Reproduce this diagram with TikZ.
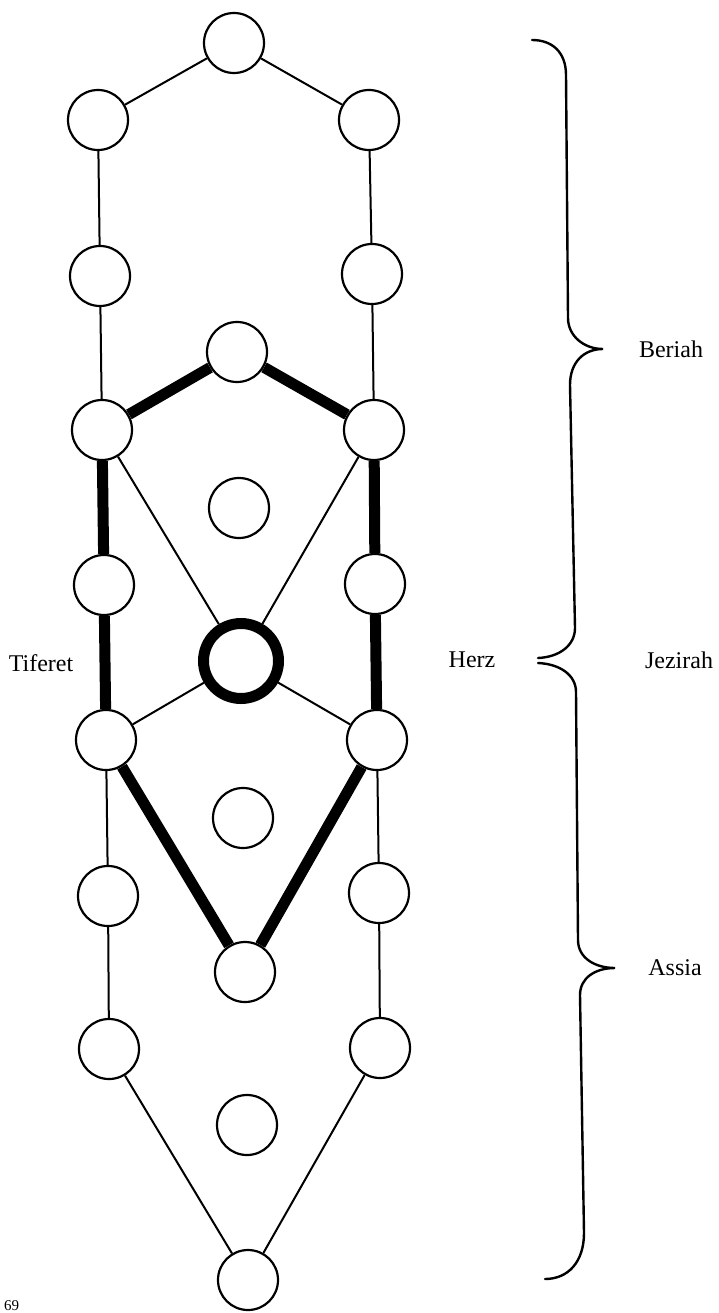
\documentclass[tikz,border=0pt]{standalone}
\usepackage{fontspec}
\setmainfont{Liberation Serif}
\begin{document}
\begin{tikzpicture}[x=1pt,y=-1pt,
  sph/.style={circle,draw,line width=2.2pt,minimum size=60pt,inner sep=0pt,fill=white},
  heavysph/.style={circle,draw,line width=11pt,minimum size=75pt,inner sep=0pt,fill=white},
  thinline/.style={line width=2pt},
  heavyline/.style={line width=11pt},
  bracepath/.style={line width=2.4pt,line cap=round},
  lbl/.style={font=\fontsize{24}{28}\selectfont,inner sep=0pt}]
\useasboundingbox (0,0) rectangle (719,1313);
% nodes
\node[sph] (T)  at (234,43) {};
\node[sph] (L1) at (98,120) {};
\node[sph] (R1) at (369,120) {};
\node[sph] (L2) at (100,276) {};
\node[sph] (R2) at (372,274) {};
\node[sph] (M1) at (237,352) {};
\node[sph] (L3) at (102,430) {};
\node[sph] (R3) at (374,430) {};
\node[sph] (C1) at (239,508) {};
\node[sph] (L4) at (104,585) {};
\node[sph] (R4) at (375,584) {};
\node[heavysph] (H) at (241,661) {};
\node[sph] (L5) at (106,740) {};
\node[sph] (R5) at (377,740) {};
\node[sph] (C2) at (243,818) {};
\node[sph] (L6) at (108,896) {};
\node[sph] (R6) at (379,893) {};
\node[sph] (M2) at (245,972) {};
\node[sph] (L7) at (109,1049) {};
\node[sph] (R7) at (380,1048) {};
\node[sph] (C3) at (247,1125) {};
\node[sph] (B)  at (248,1280) {};
% thin connectors
\draw[thinline] (T) -- (L1);
\draw[thinline] (T) -- (R1);
\draw[thinline] (L1) -- (L2);
\draw[thinline] (R1) -- (R2);
\draw[thinline] (L2) -- (L3);
\draw[thinline] (R2) -- (R3);
\draw[thinline] (L3) -- (H);
\draw[thinline] (R3) -- (H);
\draw[thinline] (H) -- (L5);
\draw[thinline] (H) -- (R5);
\draw[thinline] (L5) -- (L6);
\draw[thinline] (R5) -- (R6);
\draw[thinline] (L6) -- (L7);
\draw[thinline] (R6) -- (R7);
\draw[thinline] (L7) -- (B);
\draw[thinline] (R7) -- (B);
% heavy connectors
\draw[heavyline] (M1) -- (L3);
\draw[heavyline] (M1) -- (R3);
\draw[heavyline] (L3) -- (L4);
\draw[heavyline] (L4) -- (L5);
\draw[heavyline] (R3) -- (R4);
\draw[heavyline] (R4) -- (R5);
\draw[heavyline] (L5) -- (M2);
\draw[heavyline] (R5) -- (M2);
% braces
\draw[bracepath] (532,40) .. controls (552,40) and (566,52) .. (566,75)
  -- (568,318) .. controls (568,336) and (584,349) .. (603,349)
  .. controls (584,349) and (570,362) .. (570,385)
  -- (575,628) .. controls (575,645) and (560,657) .. (538,658);
\draw[bracepath] (538,663) .. controls (560,664) and (576,675) .. (576,692)
  -- (578,940) .. controls (578,958) and (595,968) .. (615,968)
  .. controls (595,968) and (580,978) .. (580,995)
  -- (584,1233) .. controls (584,1262) and (568,1279) .. (545,1279);
% labels
\node[lbl] (tif) at (41,663) {Tiferet};
\node[lbl] (herz) at (472,660) {Herz};
\node[lbl] (jez) at (679,660) {Jezirah};
\node[lbl] (ber) at (671,349) {Beriah};
\node[lbl] (ass) at (675,968) {Assia};
\node[font=\fontsize{15}{17}\selectfont,inner sep=0pt,anchor=south west] (pg) at (4,1311) {69};
\end{tikzpicture}
\end{document}
